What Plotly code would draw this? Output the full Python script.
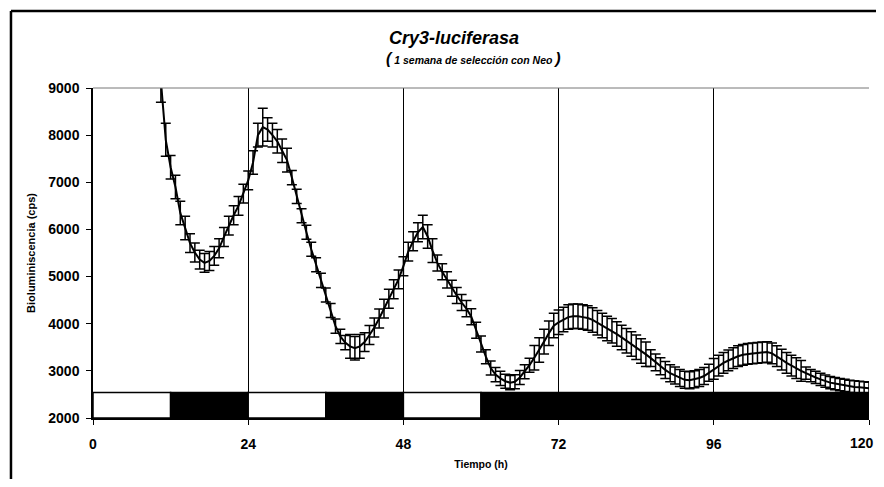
import plotly.graph_objects as go

# ---- data ----
time_h = [10.5 + 0.75 * i for i in range(147)]
biolum_cps = [
    9150, 7900, 7320, 6900, 6350, 6030, 5710, 5510, 5360, 5290,
    5330, 5440, 5600, 5840, 6080, 6300, 6500, 6760, 7040, 7420,
    8000, 8170, 8120, 8000, 7870, 7670, 7470, 7100, 6700, 6290,
    5940, 5580, 5250, 4920, 4610, 4280, 3950, 3730, 3600, 3520,
    3480, 3520, 3610, 3760, 3920, 4110, 4320, 4530, 4730, 4940,
    5220, 5530, 5750, 5940, 6050, 5850, 5550, 5290, 5100, 4930,
    4750, 4600, 4450, 4320, 4150, 3860, 3570, 3300, 3060, 2920,
    2840, 2780, 2750, 2770, 2860, 2980, 3120, 3280, 3440, 3620,
    3800, 3960, 4030, 4090, 4140, 4160, 4160, 4140, 4120, 4080,
    4020, 3960, 3900, 3850, 3780, 3710, 3640, 3570, 3500, 3420,
    3350, 3270, 3180, 3100, 3020, 2950, 2900, 2850, 2810, 2800,
    2820, 2850, 2890, 2960, 3040, 3110, 3170, 3220, 3270, 3310,
    3340, 3360, 3370, 3380, 3390, 3400, 3370, 3310, 3240, 3170,
    3110, 3060, 3000, 2950, 2900, 2860, 2820, 2780, 2750, 2730,
    2710, 2690, 2670, 2660, 2650, 2640, 2630,
]
biolum_err = [
    450, 350, 250, 250, 250, 250, 200, 200, 200, 200,
    200, 200, 200, 200, 200, 200, 200, 200, 200, 250,
    250, 400, 250, 250, 250, 250, 250, 150, 150, 150,
    150, 150, 150, 150, 150, 150, 150, 150, 150, 250,
    250, 250, 200, 200, 200, 200, 200, 200, 200, 200,
    200, 200, 200, 200, 250, 250, 250, 170, 170, 170,
    170, 170, 170, 170, 170, 170, 170, 150, 150, 150,
    150, 150, 150, 150, 150, 150, 150, 260, 260, 260,
    260, 260, 260, 260, 260, 260, 260, 260, 260, 260,
    260, 260, 260, 260, 260, 260, 260, 260, 260, 260,
    260, 180, 180, 180, 180, 180, 180, 180, 180, 180,
    180, 180, 180, 180, 220, 220, 220, 220, 220, 220,
    220, 220, 220, 220, 220, 220, 220, 220, 220, 220,
    220, 220, 220, 130, 130, 130, 130, 130, 130, 130,
    130, 130, 130, 130, 130, 130, 130,
]

# light/dark schedule bar
phase_start = [0, 12, 24, 36, 48, 60]
phase_end = [12, 24, 36, 48, 60, 120]
phase_dark = [False, True, False, True, False, True]
bar_bottom = 2000
bar_top = 2540

x_ticks = [0, 24, 48, 72, 96, 120]
y_ticks = [2000, 3000, 4000, 5000, 6000, 7000, 8000, 9000]

title_text = "Cry3-luciferasa"
subtitle_text = "1 semana de selección con Neo"
x_title = "Tiempo (h)"
y_title = "Bioluminiscencia (cps)"

FONT = "Liberation Sans, Arial, sans-serif"
TICKFONT = dict(family=FONT, size=14, color="black", weight="bold")

fig = go.Figure()
fig.add_trace(go.Scatter(
    x=time_h, y=biolum_cps, mode="lines",
    line=dict(color="black", width=2),
    error_y=dict(type="data", array=biolum_err, visible=True,
                 color="black", thickness=1.5, width=5),
    showlegend=False, cliponaxis=True,
))

shapes = []
for s, e, d in zip(phase_start, phase_end, phase_dark):
    shapes.append(dict(type="rect", xref="x", yref="y", x0=s, x1=e,
                       y0=bar_bottom, y1=bar_top, layer="above",
                       fillcolor="black" if d else "white",
                       line=dict(color="black", width=1.5)))
# plot area top edge
shapes.append(dict(type="line", xref="paper", yref="paper", x0=0, x1=1,
                   y0=1, y1=1, line=dict(color="#777", width=1)))
# outer chart frame (left and top)
shapes.append(dict(type="line", xref="paper", yref="paper",
                   x0=-0.1057, x1=-0.1057, y0=-0.25, y1=1.2333,
                   line=dict(color="black", width=2.5)))
shapes.append(dict(type="line", xref="paper", yref="paper",
                   x0=-0.1057, x1=1.1, y0=1.2333, y1=1.2333,
                   line=dict(color="black", width=2.5)))

# last x tick label sits at the right page edge; draw it right-anchored
# so it stays fully visible
x_ticktext = [str(v) for v in x_ticks[:-1]] + [""]
annotations = [
    dict(xref="paper", yref="paper", x=0.465, y=1.1515, showarrow=False,
         xanchor="center", yanchor="middle",
         text="<b><i>" + title_text + "</i></b>",
         font=dict(family=FONT, size=18, color="black")),
    dict(xref="paper", yref="paper", x=0.49, y=1.09, showarrow=False,
         xanchor="center", yanchor="middle",
         text="<b><i><span style='font-size:16px'>(</span> " + subtitle_text +
              " <span style='font-size:16px'>)</span></i></b>",
         font=dict(family=FONT, size=10.5, color="black")),
    dict(xref="x", yref="paper", x=x_ticks[-1], y=-0.0758, showarrow=False,
         xanchor="right", yanchor="middle", xshift=7,
         text=str(x_ticks[-1]), font=TICKFONT),
]

# the page body has an 8px margin, so the figure is smaller and its
# margins tighter, keeping the plot area at the reference position
fig.update_layout(
    width=876, height=471, autosize=False,
    margin=dict(l=85, r=15, t=80, b=61, autoexpand=False),
    paper_bgcolor="white", plot_bgcolor="white",
    font=dict(family=FONT, color="black"),
    shapes=shapes, annotations=annotations,
    xaxis=dict(
        range=[0, 120], tickvals=x_ticks, ticktext=x_ticktext,
        showgrid=True, gridcolor="black", gridwidth=1,
        showline=True, linecolor="black", linewidth=1.5,
        ticks="outside", ticklen=5, tickcolor="black",
        zeroline=False, automargin=False,
        tickfont=TICKFONT,
        ticklabelstandoff=7,
        title=dict(text="<b>" + x_title + "</b>", standoff=10,
                   font=dict(family=FONT, size=10.5, color="black")),
    ),
    yaxis=dict(
        range=[2000, 9000], tickvals=y_ticks,
        showgrid=False, zeroline=False, automargin=False,
        showline=True, linecolor="black", linewidth=1.5,
        ticks="outside", ticklen=5, tickcolor="black",
        tickfont=TICKFONT,
        ticklabelstandoff=4,
        title=dict(text="<b>" + y_title + "</b>", standoff=10,
                   font=dict(family=FONT, size=11, color="black")),
    ),
)

fig.write_html("out.html")
